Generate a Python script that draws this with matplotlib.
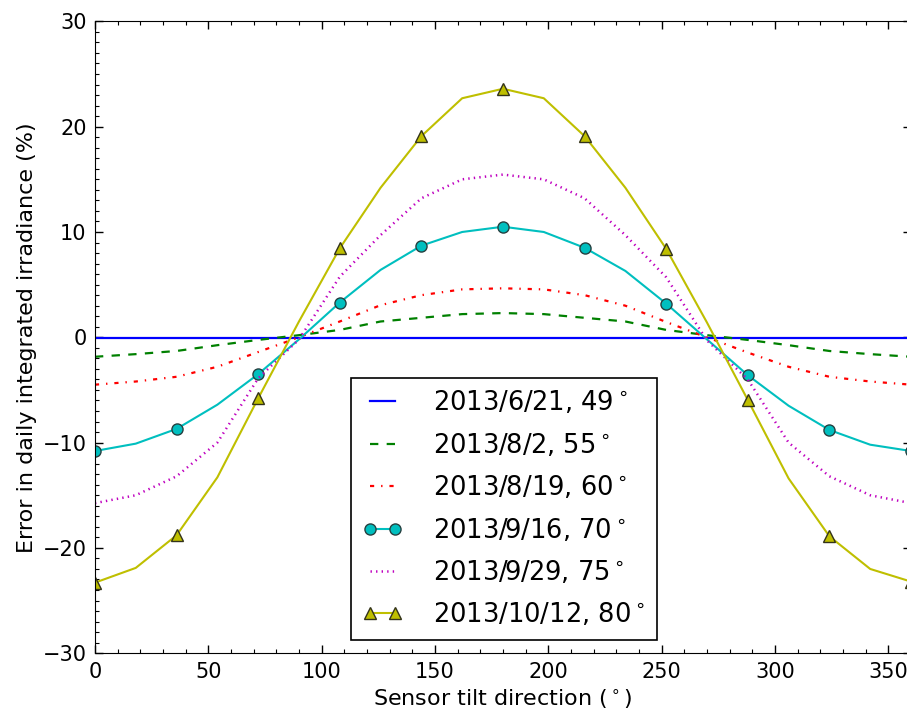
import numpy as np
import matplotlib.pyplot as plt
from matplotlib.ticker import MultipleLocator

# classic (1.x) dash patterns, not scaled with line width
plt.rcParams['lines.scale_dashes'] = False
plt.rcParams['lines.dashed_pattern'] = [6, 6]
plt.rcParams['lines.dashdot_pattern'] = [3, 5, 1, 5]
plt.rcParams['lines.dotted_pattern'] = [1, 3]

# sensor tilt direction (deg), sampled every 18 deg
tilt = [0, 18, 36, 54, 72, 90, 108, 126, 144, 162, 180,
        198, 216, 234, 252, 270, 288, 306, 324, 342, 360]

# error in daily integrated irradiance (%)
err_49 = [-0.1] * 21
err_55 = [-1.85, -1.6, -1.3, -0.75, -0.25, 0.2, 0.7, 1.5, 1.85, 2.2, 2.3,
          2.2, 1.85, 1.5, 0.7, 0.2, -0.25, -0.75, -1.3, -1.6, -1.85]
err_60 = [-4.5, -4.2, -3.75, -2.8, -1.4, 0.0, 1.5, 3.05, 4.0, 4.55, 4.65,
          4.55, 4.0, 3.0, 1.45, 0.0, -1.45, -2.8, -3.75, -4.2, -4.5]
err_70 = [-10.8, -10.1, -8.7, -6.4, -3.5, -0.2, 3.3, 6.4, 8.7, 10.0, 10.5,
          10.0, 8.5, 6.3, 3.2, -0.2, -3.6, -6.5, -8.8, -10.2, -10.8]
err_75 = [-15.75, -15.0, -13.2, -10.0, -3.9, -0.2, 5.75, 9.7, 13.2, 15.0, 15.45,
          15.0, 13.2, 9.7, 5.7, -0.3, -4.0, -10.0, -13.2, -15.0, -15.75]
err_80 = [-23.3, -21.9, -18.8, -13.3, -5.8, 1.5, 8.45, 14.2, 19.1, 22.7, 23.6,
          22.7, 19.1, 14.2, 8.4, 1.4, -5.95, -13.4, -18.9, -22.0, -23.2]

labels = ['2013/6/21, 49$^\\circ$', '2013/8/2, 55$^\\circ$', '2013/8/19, 60$^\\circ$',
          '2013/9/16, 70$^\\circ$', '2013/9/29, 75$^\\circ$', '2013/10/12, 80$^\\circ$']

fig = plt.figure(figsize=(9.07, 7.10), dpi=100)
ax = fig.add_axes([0.1047, 0.08, 0.8997, 0.8899])

ax.plot(tilt, err_49, '-', color=(0, 0, 1), lw=1.6, label=labels[0])
ax.plot(tilt, err_55, '--', color=(0, 0.5, 0), lw=1.6, label=labels[1])
ax.plot(tilt, err_60, '-.', color=(1, 0, 0), lw=1.6, label=labels[2])
ax.plot(tilt, err_70, '-o', color=(0, 0.75, 0.75), lw=1.5, ms=8, mec=(0.15, 0.25, 0.25),
        markevery=2, label=labels[3])
ax.plot(tilt, err_75, ':', color=(0.75, 0, 0.75), lw=1.8, label=labels[4])
ax.plot(tilt, err_80, '-^', color=(0.75, 0.75, 0), lw=1.5, ms=8, mec=(0.2, 0.2, 0.1),
        markevery=2, label=labels[5])

ax.set_xlim(0, 360)
ax.set_ylim(-30, 30)
ax.xaxis.set_major_locator(MultipleLocator(50))
ax.xaxis.set_minor_locator(MultipleLocator(10))
ax.yaxis.set_major_locator(MultipleLocator(10))
ax.yaxis.set_minor_locator(MultipleLocator(1))
ax.tick_params(which='both', direction='in', top=True, right=True, labelsize=15, pad=6)
ax.tick_params(which='major', length=6, width=1)
ax.tick_params(which='minor', length=3, width=0.8)

ax.set_xlabel('Sensor tilt direction ($^\\circ$)', fontsize=16)
ax.set_ylabel('Error in daily integrated irradiance (%)', fontsize=16)

leg = ax.legend(loc='lower center', bbox_to_anchor=(0.501, 0.021), borderaxespad=0,
                fontsize=18.5, numpoints=2, handlelength=1.55, handletextpad=1.2,
                labelspacing=0.6, borderpad=0.45, fancybox=False, framealpha=1)
leg.get_frame().set_edgecolor('black')
leg.get_frame().set_linewidth(1.2)

fig.savefig('out.png', dpi=100)
